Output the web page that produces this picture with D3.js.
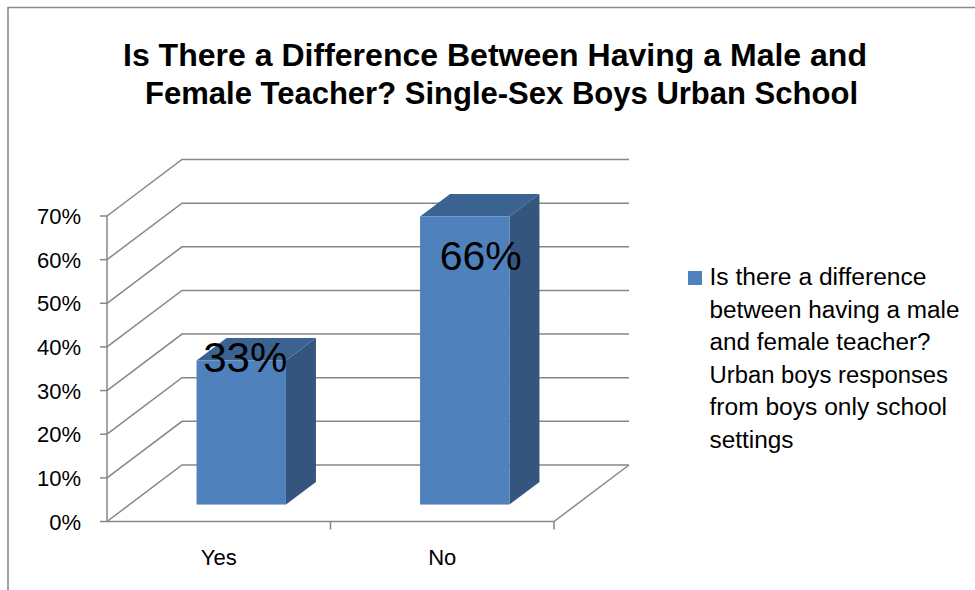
<!DOCTYPE html>
<html>
<head>
<meta charset="utf-8">
<script src="https://cdn.jsdelivr.net/npm/d3@7"></script>
<style>
  html, body { margin: 0; padding: 0; background: #fff; }
  svg { display: block; }
  text { font-family: "Liberation Sans", Arial, sans-serif; fill: #000; }
</style>
</head>
<body>
<svg id="chart" width="975" height="590"></svg>
<script>
// ---------- data ----------
const categories = ["Yes", "No"];
const values = [0.33, 0.66];
const valueLabels = ["33%", "66%"];
const yTicks = [0, 0.1, 0.2, 0.3, 0.4, 0.5, 0.6, 0.7];
const titleLines = [
  "Is There a Difference Between Having a Male and",
  "Female Teacher? Single-Sex Boys Urban School"
];
const legendLines = [
  "Is there a difference",
  "between having a male",
  "and female teacher?",
  "Urban boys responses",
  "from boys only school",
  "settings"
];

// ---------- layout / style ----------
const W = 975, H = 590;
const FRONT = { left: 107, right: 554, top: 216, bottom: 521.5 };
const DEPTH = { dx: 75, dy: -56.5 };          // projection of full depth
const BAR_DEPTH = [0.3, 0.7];                  // bar occupies this depth range
const BAR_WIDTH_FRAC = 0.4;
const GRID = "#878787";
const C_FRONT = "#4F81BD", C_SIDE = "#34557E", C_TOP = "#3B6392";

const svg = d3.select("#chart");

// outer chart border
svg.append("path")
  .attr("d", `M8,${H + 5} L8,7.5 L${W + 5},7.5`)
  .attr("fill", "none").attr("stroke", "#8a8a8a").attr("stroke-width", 1.6);

// scales
const x = d3.scaleBand().domain(categories).range([FRONT.left, FRONT.right]).padding(0);
const y = d3.scaleLinear().domain([0, 0.7]).range([FRONT.bottom, FRONT.top]);
const proj = (px, py, d) => [px + d * DEPTH.dx, py + d * DEPTH.dy];

// ---------- walls / gridlines ----------
const g = svg.append("g");
const backRight = FRONT.right + DEPTH.dx;
yTicks.forEach(t => {
  const yf = y(t);
  const [bx, by] = proj(FRONT.left, yf, 1);
  g.append("path")
    .attr("d", `M${FRONT.left},${yf} L${bx},${by} L${backRight},${by}`)
    .attr("fill", "none").attr("stroke", GRID).attr("stroke-width", 1.5);
});
// floor front edge + right diagonal
{
  const [bx, by] = proj(FRONT.right, y(0), 1);
  g.append("path")
    .attr("d", `M${FRONT.left},${y(0)} L${FRONT.right},${y(0)} L${bx},${by}`)
    .attr("fill", "none").attr("stroke", GRID).attr("stroke-width", 1.5);
}
// y axis line
g.append("line")
  .attr("x1", FRONT.left).attr("x2", FRONT.left)
  .attr("y1", y(0.7)).attr("y2", y(0))
  .attr("stroke", GRID).attr("stroke-width", 1.5);
// y ticks + labels
yTicks.forEach(t => {
  g.append("line")
    .attr("x1", FRONT.left - 7).attr("x2", FRONT.left)
    .attr("y1", y(t)).attr("y2", y(t))
    .attr("stroke", GRID).attr("stroke-width", 1.5);
  g.append("text")
    .attr("x", 81).attr("y", y(t) + 8)
    .attr("text-anchor", "end")
    .attr("font-size", 22)
    .text(d3.format(".0%")(t));
});
// x ticks (category boundaries)
const xBoundaries = categories.map(c => x(c)).concat([FRONT.right]);
xBoundaries.slice(1).forEach(bx => {
  g.append("line")
    .attr("x1", bx).attr("x2", bx)
    .attr("y1", y(0)).attr("y2", y(0) + 8)
    .attr("stroke", GRID).attr("stroke-width", 1.5);
});
// x labels
categories.forEach(c => {
  g.append("text")
    .attr("x", x(c) + x.bandwidth() / 2)
    .attr("y", 565)
    .attr("text-anchor", "middle")
    .attr("font-size", 22)
    .text(c);
});

// ---------- 3D bars ----------
const bars = svg.append("g");
const bw = x.bandwidth() * BAR_WIDTH_FRAC;
const [d0, d1] = BAR_DEPTH;
categories.forEach((c, i) => {
  const x0 = x(c) + (x.bandwidth() - bw) / 2, x1 = x0 + bw;
  const yb = y(0), yt = y(values[i]);
  const p = (px, py, d) => proj(px, py, d).join(",");
  // side face
  bars.append("path")
    .attr("d", `M${p(x1, yb, d0)} L${p(x1, yb, d1)} L${p(x1, yt, d1)} L${p(x1, yt, d0)} Z`)
    .attr("fill", C_SIDE);
  // top face
  bars.append("path")
    .attr("d", `M${p(x0, yt, d0)} L${p(x1, yt, d0)} L${p(x1, yt, d1)} L${p(x0, yt, d1)} Z`)
    .attr("fill", C_TOP);
  // front face
  const [fx0, fy0] = proj(x0, yt, d0);
  const [fx1, fy1] = proj(x1, yb, d0);
  bars.append("rect")
    .attr("x", fx0).attr("y", fy0)
    .attr("width", fx1 - fx0).attr("height", fy1 - fy0)
    .attr("fill", C_FRONT);
});

// data labels (placement nudges relative to the bar's front-top corner)
const labelNudge = [{ dx: 4, dy: 11.5, size: 42 }, { dx: 16, dy: 53, size: 41 }];
categories.forEach((c, i) => {
  const cx = x(c) + x.bandwidth() / 2;
  const [px, py] = proj(cx, y(values[i]), d0);
  bars.append("text")
    .attr("x", px + labelNudge[i].dx)
    .attr("y", py + labelNudge[i].dy)
    .attr("text-anchor", "middle")
    .attr("font-size", labelNudge[i].size)
    .text(valueLabels[i]);
});

// ---------- title ----------
const titleCfg = [{ x: 123, y: 66, len: 744 }, { x: 145, y: 103.5, len: 713 }];
titleLines.forEach((t, i) => {
  svg.append("text")
    .attr("x", titleCfg[i].x).attr("y", titleCfg[i].y)
    .attr("font-size", 32).attr("font-weight", "bold")
    .attr("textLength", titleCfg[i].len)
    .attr("lengthAdjust", "spacingAndGlyphs")
    .text(t);
});

// ---------- legend ----------
const leg = svg.append("g");
leg.append("rect").attr("x", 688).attr("y", 271).attr("width", 14).attr("height", 14).attr("fill", C_FRONT);
const legLens = [217, 250, 221, 238.5, 237.5, 84];
legendLines.forEach((t, i) => {
  leg.append("text")
    .attr("x", 709.5).attr("y", 285 + i * 32.5)
    .attr("font-size", 23)
    .attr("textLength", legLens[i])
    .attr("lengthAdjust", "spacingAndGlyphs")
    .text(t);
});
</script>
</body>
</html>
